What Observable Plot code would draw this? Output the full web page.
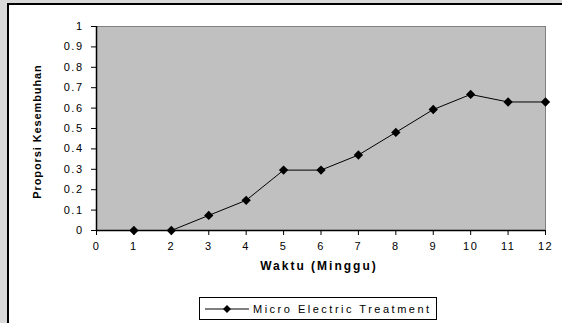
<!DOCTYPE html>
<html>
<head>
<meta charset="utf-8">
<script src="https://cdn.jsdelivr.net/npm/d3@7"></script>
<script src="https://cdn.jsdelivr.net/npm/@observablehq/plot@0.6"></script>
<style>
  html, body { margin: 0; padding: 0; }
  body { width: 562px; height: 323px; background: #d9d9d9; position: relative; overflow: hidden; font-family: "Liberation Sans", Arial, sans-serif; }
  #frame { position: absolute; left: 7px; top: 3px; width: 600px; height: 400px; background: #fff; border: 2px solid #000; box-sizing: border-box; }
  #chart { position: absolute; left: 0; top: 0; }
  #legend { position: absolute; left: 199px; top: 297px; width: 238px; height: 23px; box-sizing: border-box; border: 1px solid #000; background: #fff; font-size: 11px; letter-spacing: 2.5px; display: flex; align-items: center; white-space: nowrap; }
  #legend svg { margin-left: 5px; margin-right: 4px; }
</style>
</head>
<body>
<div id="frame"></div>
<div id="chart"></div>
<div id="legend"></div>
<script>
const weeks = [1, 2, 3, 4, 5, 6, 7, 8, 9, 10, 11, 12];
const proportions = [0, 0, 0.074, 0.148, 0.296, 0.296, 0.370, 0.481, 0.593, 0.667, 0.630, 0.630];
const seriesName = "Micro Electric Treatment";
const xTicks = [0, 1, 2, 3, 4, 5, 6, 7, 8, 9, 10, 11, 12];
const yTicks = [0, 0.1, 0.2, 0.3, 0.4, 0.5, 0.6, 0.7, 0.8, 0.9, 1];
const yTickLabels = ["0", "0.1", "0.2", "0.3", "0.4", "0.5", "0.6", "0.7", "0.8", "0.9", "1"];
const xTitle = "Waktu (Minggu)";
const yTitle = "Proporsi Kesembuhan";

const data = weeks.map((w, i) => ({week: w, value: proportions[i]}));

const plot = Plot.plot({
  width: 562,
  height: 290,
  marginLeft: 96,
  marginRight: 17,
  marginTop: 26,
  marginBottom: 60,
  style: {background: "transparent", fontFamily: "'Liberation Sans', Arial, sans-serif", fontSize: "11px", color: "#000"},
  x: {domain: [0, 12]},
  y: {domain: [0, 1]},
  marks: [
    Plot.frame({fill: "#c0c0c0", stroke: "#808080"}),
    Plot.axisX({ticks: xTicks, tickSize: 5, tickPadding: 7, label: null, tickFormat: d => String(d), fontSize: 11, stroke: "#000"}),
    Plot.axisY({ticks: yTicks, tickSize: 5, tickPadding: 8, label: null, tickFormat: d => yTickLabels[yTicks.indexOf(d)] ?? String(d), fontSize: 11, stroke: "#000"}),
    Plot.ruleY([0], {stroke: "#000", strokeWidth: 1.5}),
    Plot.ruleX([0], {stroke: "#000", strokeWidth: 1.5}),
    Plot.line(data, {x: "week", y: "value", stroke: "#000", strokeWidth: 1}),
    Plot.dot(data, {x: "week", y: "value", symbol: "diamond2", r: 4.2, fill: "#000", stroke: "none"}),
    Plot.text([xTitle], {frameAnchor: "bottom", dy: 39, dx: -2, fontWeight: "bold", fontSize: 12, fill: "#000", text: d => d}),
    Plot.text([yTitle], {frameAnchor: "left", dx: -59, dy: 3, rotate: -90, textAnchor: "middle", fontWeight: "bold", fontSize: 11, fill: "#000", text: d => d})
  ]
});
document.getElementById("chart").appendChild(plot);

// widen text to mimic the stretched reference rendering
d3.select(plot).selectAll("text").each(function() {
  const t = this.textContent;
  let ls = "1.5px";
  if (t === xTitle) ls = "2px";
  else if (t === yTitle) ls = "0.9px";
  this.setAttribute("letter-spacing", ls);
  this.style.letterSpacing = ls;
});

// legend
const leg = document.getElementById("legend");
const ns = "http://www.w3.org/2000/svg";
const sw = document.createElementNS(ns, "svg");
sw.setAttribute("width", 44); sw.setAttribute("height", 10);
const ln = document.createElementNS(ns, "line");
ln.setAttribute("x1", 0); ln.setAttribute("x2", 44); ln.setAttribute("y1", 5); ln.setAttribute("y2", 5);
ln.setAttribute("stroke", "#000"); ln.setAttribute("stroke-width", 1);
sw.appendChild(ln);
const dm = document.createElementNS(ns, "path");
dm.setAttribute("d", "M22,1L26,5L22,9L18,5Z"); dm.setAttribute("fill", "#000");
sw.appendChild(dm);
leg.appendChild(sw);
const sp = document.createElement("span");
sp.textContent = seriesName;
leg.appendChild(sp);
</script>
</body>
</html>
